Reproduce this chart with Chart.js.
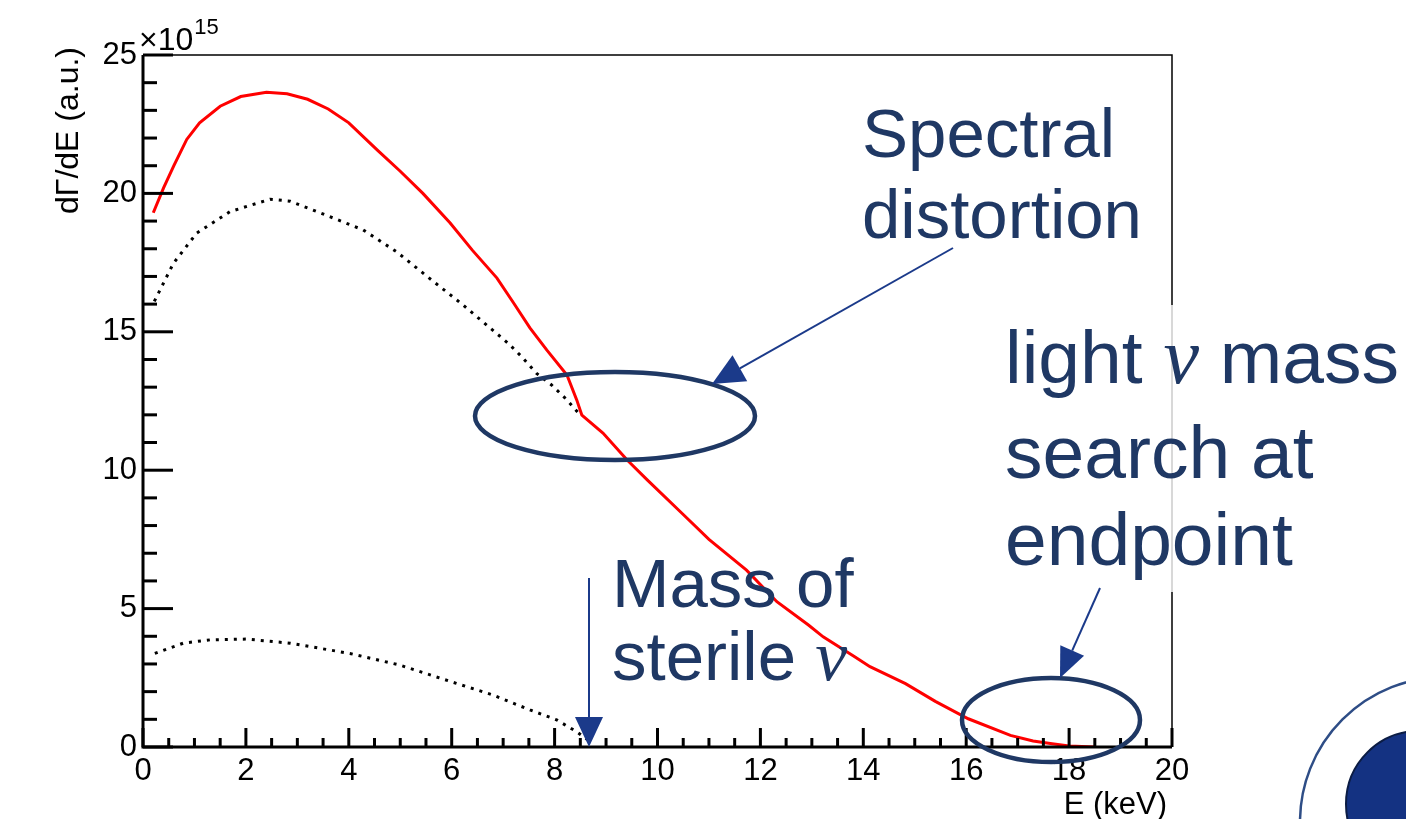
<!DOCTYPE html>
<html>
<head>
<meta charset="utf-8">
<title>Beta spectrum with sterile neutrino</title>
<script src="https://cdn.jsdelivr.net/npm/chart.js@4"></script>
<style>
  html, body { margin: 0; padding: 0; background: #fff; }
  #wrap { width: 1406px; height: 819px; }
</style>
</head>
<body>
<div id="wrap"><canvas id="spectrum" width="1406" height="819"></canvas></div>
<script>
'use strict';

// total spectrum (red)
const eTotal = [0.2, 0.4, 0.6, 0.85, 1.1, 1.5, 1.9, 2.4, 2.8, 3.2, 3.6, 4.0, 4.55, 5.0, 5.44, 5.97,
  6.4, 6.88, 7.2, 7.52, 7.85, 8.24, 8.43, 8.53, 8.94, 9.41, 9.8, 10.5, 11.0, 11.73, 12.32, 12.94,
  13.22, 13.84, 14.13, 14.82, 15.4, 16.04, 16.86, 17.3, 17.67, 18.0, 18.5];
const dGdETotal = [19.3, 20.2, 21.0, 21.95, 22.55, 23.15, 23.5, 23.65, 23.6, 23.4, 23.05, 22.55, 21.57, 20.8, 20.0, 18.93,
  17.95, 16.94, 16.05, 15.14, 14.34, 13.44, 12.54, 11.99, 11.34, 10.37, 9.65, 8.4, 7.5, 6.39, 5.25, 4.4,
  3.98, 3.25, 2.9, 2.29, 1.65, 1.02, 0.42, 0.22, 0.12, 0.04, 0.0];

// active part (upper dotted)
const eActive = [0.22, 0.59, 1.04, 1.69, 2.47, 2.86, 3.63, 4.28, 4.93, 5.57, 6.22, 7.1, 7.36, 7.65, 7.94, 8.24, 8.5];
const dGdEActive = [16.1, 17.47, 18.56, 19.34, 19.79, 19.72, 19.16, 18.68, 17.89, 16.93, 15.97, 14.58, 14.1, 13.5, 13.08, 12.54, 11.99];

// sterile part (lower dotted)
const eSterile = [0.23, 0.78, 1.3, 2.01, 2.86, 4.02, 4.99, 6.09, 6.8, 7.52, 8.04, 8.43, 8.65];
const dGdESterile = [3.38, 3.75, 3.87, 3.9, 3.75, 3.38, 2.96, 2.3, 1.88, 1.34, 0.98, 0.55, 0.25];

const xTicks = [0, 2, 4, 6, 8, 10, 12, 14, 16, 18, 20];
const yTicks = [0, 5, 10, 15, 20, 25];

const navy = '#1f3864';
const arrowBlue = '#1b3a8a';
const sans = '"Liberation Sans", Arial, sans-serif';
const serif = '"Liberation Serif", "Times New Roman", serif';

function toPoints(xs, ys) {
  return xs.map((x, i) => ({ x: x, y: ys[i] }));
}

// ROOT style frame with inward ticks
const rootFrame = {
  id: 'rootFrame',
  afterDatasetsDraw(chart) {
    const ctx = chart.ctx;
    const a = chart.chartArea;
    const xs = chart.scales.x;
    const ys = chart.scales.y;
    ctx.save();
    ctx.strokeStyle = '#000';
    ctx.lineCap = 'butt';

    ctx.lineWidth = 1.5;
    ctx.beginPath();
    ctx.moveTo(a.left, a.top);
    ctx.lineTo(a.right, a.top);
    ctx.lineTo(a.right, a.bottom);
    ctx.stroke();

    ctx.lineWidth = 3;
    ctx.beginPath();
    ctx.moveTo(a.left, a.top);
    ctx.lineTo(a.left, a.bottom);
    ctx.lineTo(a.right, a.bottom);
    ctx.stroke();

    // y ticks
    for (let v = ys.min; v <= ys.max; v += 1) {
      const len = yTicks.includes(v) ? 30 : 14;
      const py = ys.getPixelForValue(v);
      ctx.beginPath();
      ctx.moveTo(a.left, py);
      ctx.lineTo(a.left + len, py);
      ctx.stroke();
    }
    // x ticks
    for (let v = xs.min; v <= xs.max; v += 0.5) {
      const len = xTicks.includes(v) ? 19 : 9;
      const px = xs.getPixelForValue(v);
      ctx.beginPath();
      ctx.moveTo(px, a.bottom);
      ctx.lineTo(px, a.bottom - len);
      ctx.stroke();
    }

    // tick labels
    ctx.fillStyle = '#000';
    ctx.font = '31px ' + sans;
    ctx.textAlign = 'right';
    ctx.textBaseline = 'middle';
    yTicks.forEach(v => ctx.fillText(String(v), a.left - 6, ys.getPixelForValue(v)));
    ctx.textAlign = 'center';
    ctx.textBaseline = 'alphabetic';
    xTicks.forEach(v => ctx.fillText(String(v), xs.getPixelForValue(v), a.bottom + 33));

    // axis titles
    ctx.textAlign = 'right';
    ctx.fillText('E (keV)', a.right - 5, 814);
    ctx.save();
    ctx.translate(78, a.top - 8);
    ctx.rotate(-Math.PI / 2);
    ctx.font = '32px ' + sans;
    ctx.fillText('d\u0393/dE (a.u.)', 0, 0);
    ctx.restore();

    // exponent
    ctx.textAlign = 'left';
    ctx.font = '32px ' + sans;
    ctx.fillText('\u00d710', 139, 50);
    const w = ctx.measureText('\u00d710').width;
    ctx.font = '22px ' + sans;
    ctx.fillText('15', 139 + w + 1, 34);
    ctx.restore();
  }
};

function richLine(ctx, parts, x, y) {
  let cx = x;
  parts.forEach(p => {
    ctx.font = p[1];
    ctx.fillText(p[0], cx, y);
    cx += ctx.measureText(p[0]).width;
  });
}

function arrow(ctx, x0, y0, x1, y1, headLen, headHalf) {
  const ang = Math.atan2(y1 - y0, x1 - x0);
  const bx = x1 - headLen * Math.cos(ang);
  const by = y1 - headLen * Math.sin(ang);
  ctx.beginPath();
  ctx.moveTo(x0, y0);
  ctx.lineTo(bx, by);
  ctx.stroke();
  ctx.beginPath();
  ctx.moveTo(x1, y1);
  ctx.lineTo(bx + headHalf * Math.sin(ang), by - headHalf * Math.cos(ang));
  ctx.lineTo(bx - headHalf * Math.sin(ang), by + headHalf * Math.cos(ang));
  ctx.closePath();
  ctx.fill();
}

// slide annotations drawn over the plot
const slideOverlay = {
  id: 'slideOverlay',
  afterDraw(chart) {
    const ctx = chart.ctx;
    ctx.save();

    // semi transparent text box on the right
    ctx.fillStyle = 'rgba(255,255,255,0.8)';
    ctx.fillRect(995, 305, 411, 287);

    const mid = '69px ' + sans;
    const nuMid = 'italic 72px ' + serif;
    const big = '75px ' + sans;
    const nuBig = 'italic 80px ' + serif;
    ctx.fillStyle = navy;
    ctx.textAlign = 'left';
    ctx.textBaseline = 'alphabetic';
    richLine(ctx, [['Spectral', mid]], 862, 157);
    richLine(ctx, [['distortion', mid]], 862, 238);
    richLine(ctx, [['light ', big], ['\u03bd', nuBig], [' mass', big]], 1005, 383);
    richLine(ctx, [['search at', big]], 1005, 478);
    richLine(ctx, [['endpoint', big]], 1005, 565);
    richLine(ctx, [['Mass of', mid]], 612, 607);
    richLine(ctx, [['sterile ', mid], ['\u03bd', nuMid]], 612, 680);

    // ellipses
    ctx.strokeStyle = navy;
    ctx.lineWidth = 4.5;
    ctx.beginPath();
    ctx.ellipse(615, 416, 140, 44, 0, 0, Math.PI * 2);
    ctx.stroke();
    ctx.beginPath();
    ctx.ellipse(1051, 720, 89, 42, 0, 0, Math.PI * 2);
    ctx.stroke();

    // arrows
    ctx.strokeStyle = arrowBlue;
    ctx.fillStyle = arrowBlue;
    ctx.lineWidth = 2;
    arrow(ctx, 953, 248, 712, 384, 32, 15);
    arrow(ctx, 1100, 588, 1060, 678, 30, 13);
    arrow(ctx, 589, 578, 589, 747, 30, 14);

    // corner decoration
    ctx.strokeStyle = '#2e4d86';
    ctx.lineWidth = 2.5;
    ctx.beginPath();
    ctx.arc(1445, 822, 145, 0, Math.PI * 2);
    ctx.stroke();
    ctx.fillStyle = '#143282';
    ctx.strokeStyle = '#0b1c44';
    ctx.lineWidth = 2;
    ctx.beginPath();
    ctx.arc(1419, 804, 73, 0, Math.PI * 2);
    ctx.fill();
    ctx.stroke();

    ctx.restore();
  }
};

const ctx = document.getElementById('spectrum').getContext('2d');
const spectrumChart = new Chart(ctx, { // eslint-disable-line
  type: 'scatter',
  data: {
    datasets: [
      {
        label: 'active',
        data: toPoints(eActive, dGdEActive),
        showLine: true,
        borderColor: '#000',
        borderWidth: 3,
        borderDash: [3, 6],
        pointRadius: 0,
        tension: 0
      },
      {
        label: 'sterile',
        data: toPoints(eSterile, dGdESterile),
        showLine: true,
        borderColor: '#000',
        borderWidth: 3,
        borderDash: [3, 6],
        pointRadius: 0,
        tension: 0
      },
      {
        label: 'total',
        data: toPoints(eTotal, dGdETotal),
        showLine: true,
        borderColor: '#ff0000',
        borderWidth: 3,
        pointRadius: 0,
        tension: 0
      }
    ]
  },
  options: {
    responsive: false,
    animation: false,
    devicePixelRatio: 1,
    layout: { padding: { left: 143, right: 234, top: 55, bottom: 72 } },
    plugins: {
      legend: { display: false },
      tooltip: { enabled: false }
    },
    scales: {
      x: { type: 'linear', min: 0, max: 20, display: false },
      y: { type: 'linear', min: 0, max: 25, display: false }
    }
  },
  plugins: [rootFrame, slideOverlay]
});
</script>
</body>
</html>
